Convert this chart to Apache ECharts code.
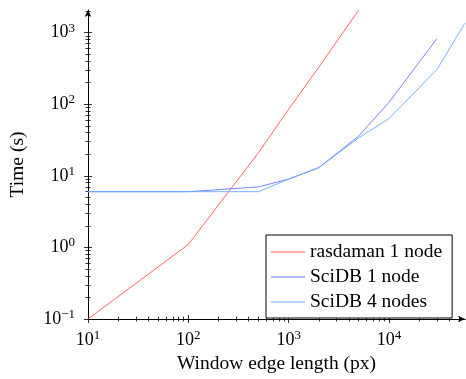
<!DOCTYPE html>
<html>
<head>
<meta charset="utf-8">
<script src="https://cdn.jsdelivr.net/npm/echarts@6/dist/echarts.min.js"></script>
<style>
  html, body { margin: 0; padding: 0; background: #fff; }
  #chart { width: 466px; height: 379px; }
</style>
</head>
<body>
<div id="chart"></div>
<script>
// window edge length (px) -> time (s)
const rasdamanX = [10, 100, 500, 1000, 2000, 5000];
const rasdamanY = [0.1, 1.1, 21, 85, 330, 2070];
const scidb1X = [10, 100, 500, 1000, 2000, 5000, 10000, 30000];
const scidb1Y = [6, 6, 7, 9, 13, 36, 106, 820];
const scidb4X = [10, 100, 500, 1000, 2000, 5000, 10000, 30000, 57300];
const scidb4Y = [6, 6, 6, 9, 13, 34, 63, 304, 1360];

const xMajor = [10, 100, 1000, 10000];
const xMinor = [20, 30, 40, 50, 60, 70, 80, 90, 200, 300, 400, 500, 600, 700, 800, 900,
  2000, 3000, 4000, 5000, 6000, 7000, 8000, 9000, 20000, 30000, 40000, 50000];
const yMajor = [0.1, 1, 10, 100, 1000];
const yMinor = [0.2, 0.3, 0.4, 0.5, 0.6, 0.7, 0.8, 0.9, 2, 3, 4, 5, 6, 7, 8, 9,
  20, 30, 40, 50, 60, 70, 80, 90, 200, 300, 400, 500, 600, 700, 800, 900, 2000];

const FONT = "Liberation Serif";
const xMin = 10, xMax = 57300, yMin = 0.1, yMax = 2070;

const pairs = (xs, ys) => xs.map((x, i) => [x, ys[i]]);

function powLabel(v) {
  const e = Math.round(Math.log10(v));
  return "10{sup|" + (e < 0 ? "\u2212" + (-e) : e) + "}";
}
const labelRich = {
  sup: { fontFamily: FONT, fontSize: 13, color: "#000", verticalAlign: "top", padding: [0, 0, 9, 0] },
};

// one axis per tick style (pgfplots ticks cross the axis line)
function tickAxis(dim, values, len, inside) {
  return {
    type: "log", logBase: 10,
    min: dim === "x" ? xMin : yMin,
    max: dim === "x" ? xMax : yMax,
    position: dim === "x" ? "bottom" : "left",
    axisLine: { show: false },
    axisLabel: { show: false },
    splitLine: { show: false },
    axisTick: { show: true, inside: inside, length: len, customValues: values,
      lineStyle: { color: "#000", width: 0.8 } },
  };
}

const chart = echarts.init(document.getElementById("chart"), null, { renderer: "canvas" });

const xAxes = [
  {
    type: "log", logBase: 10, min: xMin, max: xMax, position: "bottom",
    name: "Window edge length (px)", nameLocation: "middle", nameGap: 35,
    nameTextStyle: { fontFamily: FONT, fontSize: 19.5, color: "#000" },
    axisLine: { show: true, symbol: ["none", "arrow"], symbolSize: [5, 7],
      lineStyle: { color: "#000", width: 1 } },
    axisTick: { show: true, length: 4, customValues: xMajor, lineStyle: { color: "#000", width: 0.8 } },
    axisLabel: { customValues: xMajor, formatter: powLabel, rich: labelRich,
      fontFamily: FONT, fontSize: 18, color: "#000", margin: 10 },
    splitLine: { show: false },
  },
  tickAxis("x", xMajor, 4, true),
  tickAxis("x", xMinor, 2.5, true),
  tickAxis("x", xMinor, 2.5, false),
];
const yAxes = [
  {
    type: "log", logBase: 10, min: yMin, max: yMax, position: "left",
    name: "Time (s)", nameLocation: "middle", nameGap: 60, nameRotate: 90,
    nameTextStyle: { fontFamily: FONT, fontSize: 19.5, color: "#000" },
    axisLine: { show: true, symbol: ["none", "arrow"], symbolSize: [5, 7],
      lineStyle: { color: "#000", width: 1 } },
    axisTick: { show: true, length: 4, customValues: yMajor, lineStyle: { color: "#000", width: 0.8 } },
    axisLabel: { customValues: yMajor, formatter: powLabel, rich: labelRich,
      fontFamily: FONT, fontSize: 18, color: "#000", margin: 13 },
    splitLine: { show: false },
  },
  tickAxis("y", yMajor, 4, true),
  tickAxis("y", yMinor, 2.5, true),
  tickAxis("y", yMinor, 2.5, false),
];

const lineSeries = (name, xs, ys, color) => ({
  name, type: "line", data: pairs(xs, ys),
  xAxisIndex: 0, yAxisIndex: 0,
  symbol: "none", lineStyle: { color, width: 0.9 }, itemStyle: { color },
  animation: false,
});

chart.setOption({
  animation: false,
  grid: { left: 86, right: 1, top: 10, bottom: 54, containLabel: false },
  xAxis: xAxes,
  yAxis: yAxes,
  legend: {
    left: 266, top: 235, orient: "vertical",
    backgroundColor: "#fff",
    borderColor: "#000", borderWidth: 1, borderRadius: 0,
    padding: [7, 10, 6, 5],
    icon: "rect",
    itemWidth: 34, itemHeight: 1, itemGap: 5,
    textStyle: { fontFamily: FONT, fontSize: 19.5, color: "#000", lineHeight: 19 },
  },
  series: [
    lineSeries("rasdaman 1 node", rasdamanX, rasdamanY, "#ff5555"),
    lineSeries("SciDB 1 node", scidb1X, scidb1Y, "#6677ff"),
    lineSeries("SciDB 4 nodes", scidb4X, scidb4Y, "#66aaff"),
  ],
});
</script>
</body>
</html>
